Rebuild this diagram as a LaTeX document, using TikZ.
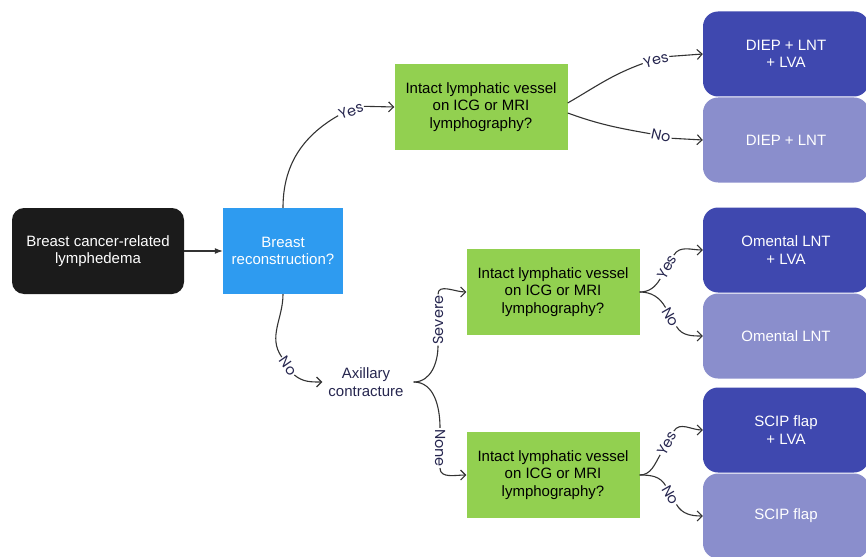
\documentclass[tikz,border=0pt]{standalone}
\usepackage{fontspec}
\setmainfont{Liberation Sans}
\newfontfamily\handfont{Poppins}
\usetikzlibrary{arrows.meta}
\definecolor{startblk}{HTML}{1B1B1B}
\definecolor{askblue}{HTML}{2E9BF0}
\definecolor{askgreen}{HTML}{92D050}
\definecolor{outdark}{HTML}{3F48AF}
\definecolor{outlight}{HTML}{8A8ECC}
\definecolor{lblnavy}{HTML}{26264F}
\definecolor{linegray}{HTML}{333333}
\tikzset{
  box/.style={rectangle,inner sep=0pt,align=center,font=\fontsize{15}{17.5}\selectfont},
  startbox/.style={box,fill=startblk,text=white,rounded corners=12pt,minimum width=172pt,minimum height=86pt},
  askbox/.style={box,fill=askgreen,text=black,minimum width=173pt,minimum height=86pt},
  outbox/.style={box,text=white,rounded corners=15pt,minimum width=166pt,minimum height=85pt},
  lbl/.style={font=\handfont\fontsize{14.5}{14.5}\selectfont,text=lblnavy,inner sep=1pt},
  link/.style={draw=linegray,line width=1.1pt},
  tip/.style={link,-{Straight Barb[length=5pt,width=10pt]}}
}
\begin{document}
\begin{tikzpicture}[x=1pt,y=1pt]
\useasboundingbox (0,0) rectangle (866,-556);
% boxes
\node[startbox] (bcrl) at (98,-251) {Breast cancer-related\\lymphedema};
\node[box,fill=askblue,text=white,minimum width=120pt,minimum height=86pt] (recon) at (283,-251) {Breast\\reconstruction?};
\node[askbox] (icgA) at (481,-107) {Intact lymphatic vessel\\on ICG or MRI\\lymphography?};
\node[askbox] (icgB) at (553,-292) {Intact lymphatic vessel\\on ICG or MRI\\lymphography?};
\node[askbox] (icgC) at (553,-475) {Intact lymphatic vessel\\on ICG or MRI\\lymphography?};
\node[box,text=lblnavy] (axil) at (366,-382) {Axillary\\contracture};
\node[outbox,fill=outdark] (diepA) at (786,-54) {DIEP + LNT\\+ LVA};
\node[outbox,fill=outlight] (diepB) at (786,-140) {DIEP + LNT};
\node[outbox,fill=outdark] (omenA) at (786,-250) {Omental LNT\\+ LVA};
\node[outbox,fill=outlight] (omenB) at (786,-336) {Omental LNT};
\node[outbox,fill=outdark] (scipA) at (786,-430) {SCIP flap\\+ LVA};
\node[outbox,fill=outlight] (scipB) at (786,-516) {SCIP flap};
% labels
\node[lbl,rotate=20] (yesR) at (351,-111) {Yes};
\node[lbl,rotate=-55] (noR) at (288,-366) {No};
\node[lbl,rotate=90] (sev) at (438,-320) {Severe};
\node[lbl,rotate=-90] (none) at (440,-448) {None};
\node[lbl,rotate=15] (yesA) at (656,-60) {Yes};
\node[lbl,rotate=-12] (noA) at (661,-136) {No};
\node[lbl,rotate=60] (yesB) at (667,-267) {Yes};
\node[lbl,rotate=-60] (noB) at (671,-317) {No};
\node[lbl,rotate=60] (yesC) at (667,-443) {Yes};
\node[lbl,rotate=-60] (noC) at (671,-495) {No};
% connectors
\draw[link,-{Latex[length=8pt,width=6pt]}] (bcrl) -- (recon);
\draw[link] (recon.north) to[out=90,in=210] (yesR.west);
\draw[tip] (yesR.east) -- (icgA.west);
\draw[link] (recon.south) to[out=-90,in=125] (noR.west);
\draw[tip] (noR.east) to[out=-40,in=180] ([xshift=-6pt]axil.west);
\draw[link] ([xshift=10pt]axil.east) to[out=0,in=-90] (sev.west);
\draw[tip] (sev.east) to[out=90,in=180] (icgB.west);
\draw[link] ([xshift=10pt]axil.east) to[out=0,in=90] (none.west);
\draw[tip] (none.east) to[out=-90,in=180] (icgC.west);
\draw[link] ([yshift=4pt]icgA.east) to[out=30,in=200] (yesA.west);
\draw[tip] (yesA.east) -- (diepA.west);
\draw[link] ([yshift=-6pt]icgA.east) to[out=-20,in=170] (noA.west);
\draw[tip] (noA.east) -- (diepB.west);
\draw[link] (icgB.east) to[out=0,in=240] (yesB.west);
\draw[tip] (yesB.east) to[out=60,in=180] (omenA.west);
\draw[link] (icgB.east) to[out=0,in=120] (noB.west);
\draw[tip] (noB.east) to[out=-60,in=180] (omenB.west);
\draw[link] (icgC.east) to[out=0,in=240] (yesC.west);
\draw[tip] (yesC.east) to[out=60,in=180] (scipA.west);
\draw[link] (icgC.east) to[out=0,in=120] (noC.west);
\draw[tip] (noC.east) to[out=-60,in=180] (scipB.west);
\end{tikzpicture}
\end{document}
